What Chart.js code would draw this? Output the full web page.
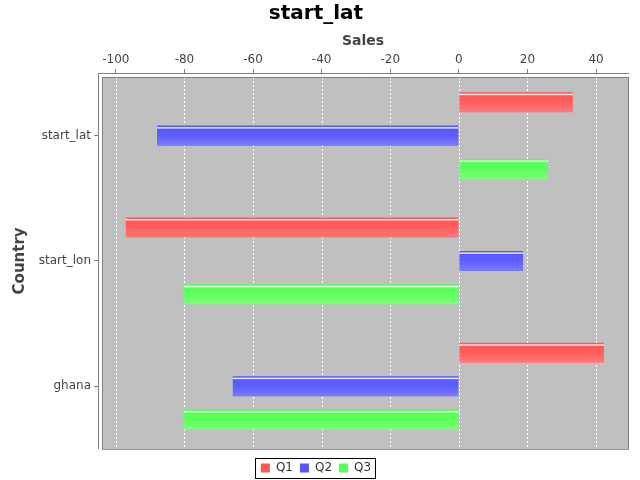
<!DOCTYPE html>
<html>
<head>
<meta charset="utf-8">
<script src="https://cdn.jsdelivr.net/npm/chart.js@4/dist/chart.umd.min.js"></script>
<style>
  html, body { margin: 0; padding: 0; background: #ffffff; }
  #wrap { width: 640px; height: 480px; }
</style>
</head>
<body>
<div id="wrap"><canvas id="c" width="640" height="480"></canvas></div>
<script>
const categories = ['start_lat', 'start_lon', 'ghana'];
const seriesNames = ['Q1', 'Q2', 'Q3'];
const q1Values = [33.2, -97.1, 42.3];
const q2Values = [-88.0, 18.7, -65.9];
const q3Values = [25.9, -80.2, -80.2];
const seriesColors = ['rgb(255,85,85)', 'rgb(85,85,255)', 'rgb(85,255,85)'];
const xTicks = [-100, -80, -60, -40, -20, 0, 20, 40];

const FONT = "'DejaVu Sans', 'Liberation Sans', sans-serif";

const plotDecor = {
  id: 'plotDecor',
  beforeDatasetsDraw(chart) {
    const a = chart.chartArea, ctx = chart.ctx;
    ctx.save();
    ctx.fillStyle = '#c0c0c0';
    ctx.fillRect(a.left + 4, a.top + 4, a.right - a.left - 4, a.bottom - a.top - 4);
    const xs = chart.scales.x;
    ctx.strokeStyle = '#ffffff';
    ctx.lineWidth = 1;
    ctx.setLineDash([2, 2]);
    xTicks.forEach(v => {
      const px = Math.round(xs.getPixelForValue(v)) + 0.5;
      ctx.beginPath();
      ctx.moveTo(px, a.top + 4);
      ctx.lineTo(px, a.bottom);
      ctx.stroke();
    });
    ctx.setLineDash([]);
    ctx.strokeStyle = '#808080';
    ctx.strokeRect(a.left + 4.5, a.top + 4.5, a.right - a.left - 4, a.bottom - a.top - 4);
    ctx.restore();
  },
  afterDatasetsDraw(chart) {
    const ctx = chart.ctx;
    ctx.save();
    chart.data.datasets.forEach((ds, di) => {
      const meta = chart.getDatasetMeta(di);
      meta.data.forEach(el => {
        const p = el.getProps(['x', 'y', 'base', 'height'], true);
        const l = Math.min(p.x, p.base), r = Math.max(p.x, p.base);
        const t = p.y - p.height / 2, b = p.y + p.height / 2;
        const g = ctx.createLinearGradient(0, t, 0, b);
        g.addColorStop(0, 'rgba(255,255,255,0.0)');
        g.addColorStop(0.5, 'rgba(255,255,255,0.05)');
        g.addColorStop(1, 'rgba(255,255,255,0.22)');
        ctx.fillStyle = g;
        ctx.fillRect(l, t, r - l, b - t);
        ctx.fillStyle = 'rgba(255,255,255,0.85)';
        ctx.fillRect(l, t + 1.5, r - l, 1.5);
      });
    });
    ctx.restore();
  },
  afterDraw(chart) {
    const lg = chart.legend;
    if (!lg || !lg.legendHitBoxes || !lg.legendHitBoxes.length) return;
    const hb = lg.legendHitBoxes;
    let l = Infinity, r = -Infinity, t = Infinity, b = -Infinity;
    hb.forEach(h => { l = Math.min(l, h.left); r = Math.max(r, h.left + h.width); t = Math.min(t, h.top); b = Math.max(b, h.top + h.height); });
    const ctx = chart.ctx;
    ctx.save();
    ctx.strokeStyle = '#000000';
    ctx.lineWidth = 1;
    ctx.strokeRect(Math.round(l - 6) + 0.5, Math.round(t - 4) + 0.5, Math.round(r - l + 10), Math.round(b - t + 8));
    ctx.restore();
  }
};

new Chart(document.getElementById('c'), {
  type: 'bar',
  data: {
    labels: categories,
    datasets: [
      { label: seriesNames[0], data: q1Values, backgroundColor: seriesColors[0] },
      { label: seriesNames[1], data: q2Values, backgroundColor: seriesColors[1] },
      { label: seriesNames[2], data: q3Values, backgroundColor: seriesColors[2] }
    ]
  },
  plugins: [plotDecor],
  options: {
    indexAxis: 'y',
    responsive: false,
    animation: false,
    devicePixelRatio: 1,
    categoryPercentage: 0.8,
    barPercentage: 0.6,
    layout: { padding: { left: 4, right: 12, top: 0, bottom: -4 } },
    plugins: {
      title: {
        display: true,
        text: 'start_lat',
        color: '#000000',
        font: { family: FONT, size: 20, weight: 'bold' },
        padding: { top: 2, bottom: 0 }
      },
      legend: {
        display: true,
        position: 'bottom',
        title: {
          display: true,
          text: '',
          font: { family: FONT, size: 1 },
          padding: { top: 3, bottom: 2 }
        },
        labels: {
          boxWidth: 9,
          boxHeight: 9,
          padding: 7,
          color: '#333333',
          font: { family: FONT, size: 12 }
        }
      },
      tooltip: { enabled: false }
    },
    scales: {
      x: {
        position: 'top',
        min: -105.2,
        max: 49.3,
        afterBuildTicks(scale) { scale.ticks = xTicks.map(v => ({ value: v })); },
        afterFit(scale) { scale.height = 47; },
        ticks: {
          color: '#444444',
          font: { family: FONT, size: 12 },
          padding: 2
        },
        grid: {
          drawOnChartArea: false,
          drawTicks: true,
          tickLength: 4,
          tickColor: '#808080'
        },
        border: { display: true, color: '#808080' },
        title: {
          display: true,
          text: 'Sales',
          color: '#444444',
          font: { family: FONT, size: 14, weight: 'bold' },
          padding: { top: 7, bottom: 0 }
        }
      },
      y: {
        afterFit(scale) { scale.width = 94; },
        ticks: {
          color: '#444444',
          font: { family: FONT, size: 12 },
          padding: 3
        },
        grid: {
          offset: false,
          drawOnChartArea: false,
          drawTicks: true,
          tickLength: 4,
          tickColor: '#808080'
        },
        border: { display: true, color: '#808080' },
        title: {
          display: true,
          text: 'Country',
          color: '#444444',
          font: { family: FONT, size: 15, weight: 'bold' },
          padding: { top: 7, bottom: 0 }
        }
      }
    }
  }
});
</script>
</body>
</html>
